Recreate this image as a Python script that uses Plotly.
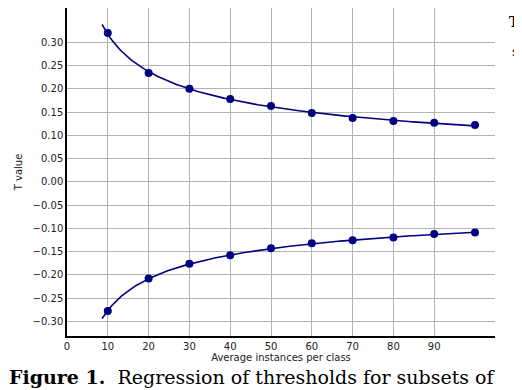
import numpy as np
import plotly.graph_objects as go

# Data
x_vals = [10, 20, 30, 40, 50, 60, 70, 80, 90, 100]
upper_T = [0.320, 0.234, 0.200, 0.178, 0.163, 0.148, 0.137, 0.131, 0.127, 0.122]
lower_T = [-0.278, -0.208, -0.176, -0.158, -0.143, -0.132, -0.1255, -0.120, -0.1125, -0.109]

y_ticks = [-0.30, -0.25, -0.20, -0.15, -0.10, -0.05, 0.00, 0.05, 0.10, 0.15, 0.20, 0.25, 0.30]
x_ticks = [0, 10, 20, 30, 40, 50, 60, 70, 80, 90]

W, H = 522, 390
L, R, T, B = 59, 35, 0, 62
PW, PH = W - L - R, H - T - B

NAVY = "#000080"


def power_fit(xs, ys, sign):
    lx = np.log(np.array(xs, dtype=float))
    ly = np.log(np.abs(np.array(ys, dtype=float)))
    b, a = np.polyfit(lx, ly, 1)
    xf = np.linspace(8.6, 100, 200)
    return xf, sign * np.exp(a) * xf ** b


fig = go.Figure()
for ys, sign in [(upper_T, 1), (lower_T, -1)]:
    xf, yf = power_fit(x_vals, ys, sign)
    fig.add_trace(go.Scatter(x=xf, y=yf, mode="lines",
                             line=dict(color=NAVY, width=1.6),
                             hoverinfo="skip", showlegend=False))
    fig.add_trace(go.Scatter(x=x_vals, y=ys, mode="markers",
                             marker=dict(color=NAVY, size=8),
                             showlegend=False))

def fmt(v):
    s = f"{abs(v):.2f}"
    return ("\u2212" + s) if v < -1e-9 else s

tick_font = dict(family="DejaVu Sans", size=10, color="#222222")
fig.update_xaxes(range=[0, 104.9], tickvals=x_ticks, ticktext=[str(t) for t in x_ticks],
                 showgrid=True, gridcolor="#b3b3b3", gridwidth=1,
                 showline=True, linecolor="black", linewidth=1.5,
                 zeroline=False, ticks="", tickfont=tick_font,
                 title=dict(text="Average instances per class",
                            font=dict(family="DejaVu Sans", size=10, color="#222222"),
                            standoff=2))
fig.update_yaxes(range=[-0.3316, 0.3738], tickvals=y_ticks, ticktext=[fmt(t) for t in y_ticks],
                 showgrid=True, gridcolor="#b3b3b3", gridwidth=1,
                 showline=True, linecolor="black", linewidth=1.5,
                 zeroline=False, ticks="", tickfont=tick_font,
                 title=dict(text="T value",
                            font=dict(family="DejaVu Sans", size=10, color="#222222"),
                            standoff=8))

def px2paper(px, py):
    return (px - L) / PW, (H - B - py) / PH

cx, cy = px2paper(0, 381)
tx, ty = px2paper(500, 14)
sx, sy = px2paper(503, 43)

fig.add_annotation(x=cx, y=cy, xref="paper", yref="paper", xanchor="left", yanchor="bottom",
                   text="<b>Figure 1.</b>  Regression of thresholds for subsets of",
                   showarrow=False, borderpad=0,
                   font=dict(family="DejaVu Serif", size=19, color="black"))
fig.add_annotation(x=tx, y=ty, xref="paper", yref="paper", xanchor="left", yanchor="middle",
                   text="<b>T</b>", showarrow=False, borderpad=0,
                   font=dict(family="DejaVu Serif", size=14, color="black"))
fig.add_annotation(x=sx, y=sy, xref="paper", yref="paper", xanchor="left", yanchor="middle",
                   text="s", showarrow=False, borderpad=0,
                   font=dict(family="DejaVu Serif", size=13, color="black"))

fig.update_layout(width=W, height=H, margin=dict(l=L, r=R, t=T, b=B, autoexpand=False),
                  paper_bgcolor="white", plot_bgcolor="white")

fig.write_html("out.html")
